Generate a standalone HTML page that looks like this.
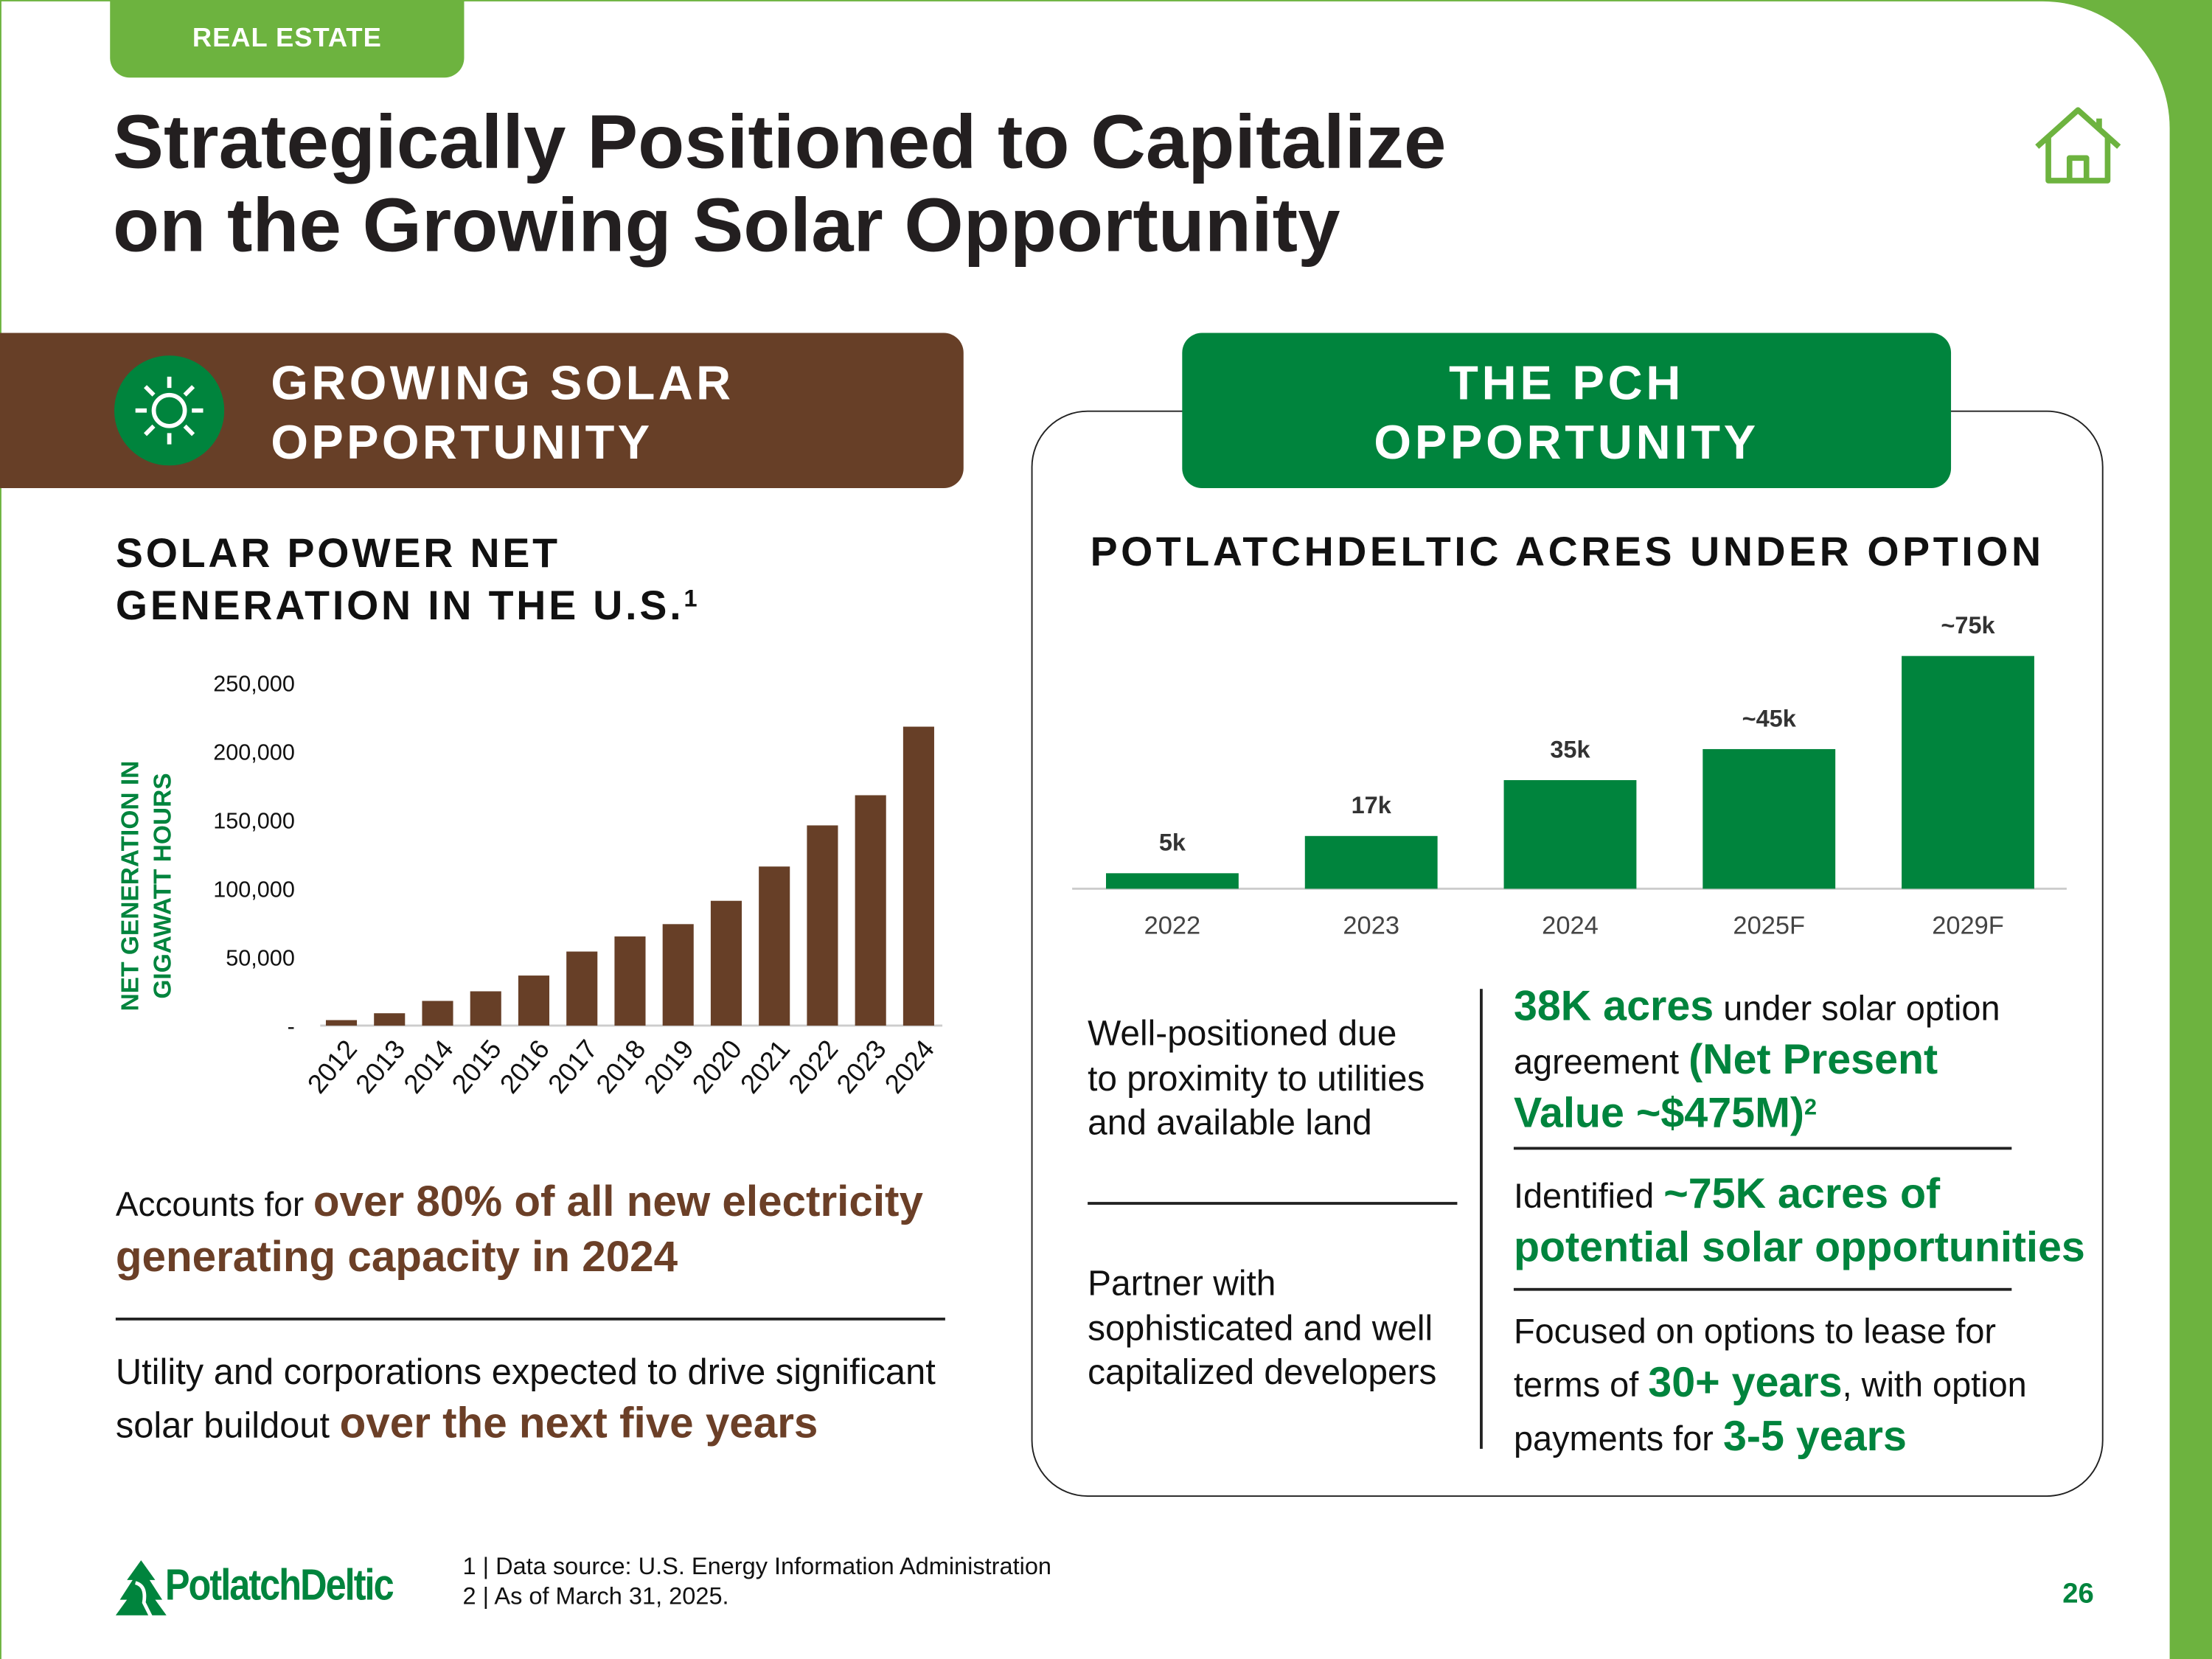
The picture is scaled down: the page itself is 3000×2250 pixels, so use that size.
<!DOCTYPE html>
<html><head><meta charset="utf-8"><style>
html,body{margin:0;padding:0;}
body{width:3000px;height:2250px;overflow:hidden;background:#6db33f;font-family:"Liberation Sans",sans-serif;}
#stage{position:absolute;left:0;top:0;width:1568px;height:1176px;transform:scale(1.91327);transform-origin:0 0;}
#page{position:absolute;left:1px;top:1px;width:1537px;height:1175px;background:#fff;border-top-right-radius:90px;}
.a{position:absolute;white-space:nowrap;}
.g{color:#00843d;font-weight:bold;}
.b{color:#6b3f27;font-weight:bold;}
.hr{position:absolute;height:1.5px;background:#222;}
sup{line-height:0;vertical-align:0;position:relative;top:-0.55em;}
</style></head><body>
<div id="stage">
<div id="page"></div>
<div class="a" style="left:78px;top:0;width:251px;height:55px;background:#6db33f;border-radius:0 0 14px 14px;color:#fff;font-weight:bold;font-size:19px;line-height:55px;text-align:center;letter-spacing:.5px">REAL ESTATE</div>
<div class="a" style="left:80px;top:72px;font-size:54px;font-weight:bold;line-height:59px;color:#231f20">Strategically Positioned to Capitalize<br>on the Growing Solar Opportunity</div>
<svg class="a" style="left:1440px;top:74px" width="66" height="58" viewBox="0 0 66 58"><path d="M4 30 L33 4 L62 30 M12 23 V54 H54 V23 M27 54 V38 H39 V54 M48 10 V17" fill="none" stroke="#6db33f" stroke-width="4" stroke-linejoin="round"/></svg>

<div class="a" style="left:0;top:236px;width:683px;height:110px;background:#673f27;border-radius:0 14px 14px 0"></div>
<svg class="a" style="left:81px;top:252px" width="78" height="78" viewBox="0 0 78 78"><circle cx="39" cy="39" r="39" fill="#00843d"/><circle cx="39" cy="39" r="11" fill="none" stroke="#fff" stroke-width="3"/><g stroke="#fff" stroke-width="3"><line x1="39" y1="15" x2="39" y2="23"/><line x1="39" y1="55" x2="39" y2="63"/><line x1="15" y1="39" x2="23" y2="39"/><line x1="55" y1="39" x2="63" y2="39"/><line x1="22" y1="22" x2="28" y2="28"/><line x1="50" y1="50" x2="56" y2="56"/><line x1="56" y1="22" x2="50" y2="28"/><line x1="22" y1="56" x2="28" y2="50"/></g></svg>
<div class="a" style="left:192px;top:251px;color:#fff;font-weight:bold;font-size:34px;line-height:42px;letter-spacing:2.3px">GROWING SOLAR<br>OPPORTUNITY</div>

<div class="a" style="left:731px;top:291px;width:758px;height:768px;border:1.5px solid #222;border-radius:40px"></div>
<div class="a" style="left:838px;top:236px;width:545px;height:110px;background:#00843d;border-radius:14px;color:#fff;font-weight:bold;font-size:34px;line-height:42px;letter-spacing:2.5px;text-align:center;padding-top:15px;box-sizing:border-box">THE PCH<br>OPPORTUNITY</div>

<div class="a" style="left:82px;top:375px;font-weight:bold;font-size:29px;line-height:37px;letter-spacing:2px;color:#111">SOLAR POWER NET<br>GENERATION IN THE U.S.<sup style="font-size:17px">1</sup></div>
<div class="a" style="left:731px;width:760px;top:376px;text-align:center;font-weight:bold;font-size:29px;letter-spacing:2.4px;color:#111">POTLATCHDELTIC ACRES UNDER OPTION</div>

<svg class="a" id="lc" style="left:0;top:0" width="700" height="800"></svg>
<svg class="a" id="rc" style="left:0;top:0" width="1568" height="700"></svg>

<div class="a" style="left:82px;top:834px;font-size:24px;line-height:36px;color:#111">Accounts for <span class="b" style="font-size:30.5px">over 80% of all new electricity</span><br><span class="b" style="font-size:30.5px">generating capacity in 2024</span></div>
<div class="hr" style="left:82px;top:934px;width:588px"></div>
<div class="a" style="left:82px;top:955px;font-size:25.5px;line-height:36px;color:#111">Utility and corporations expected to drive significant<br>solar buildout <span class="b" style="font-size:30.5px">over the next five years</span></div>

<div class="a" style="left:771px;top:718px;font-size:25px;line-height:31.5px;color:#111">Well-positioned due<br>to proximity to utilities<br>and available land</div>
<div class="hr" style="left:771px;top:852px;width:262px"></div>
<div class="a" style="left:771px;top:895px;font-size:25px;line-height:31.5px;color:#111">Partner with<br>sophisticated and well<br>capitalized developers</div>
<div class="a" style="left:1049px;top:701px;width:1.5px;height:326px;background:#222"></div>
<div class="a" style="left:1073px;top:696px;font-size:24.5px;line-height:36px;color:#111"><span class="g" style="font-size:30px">38K acres</span> under solar option<br>agreement <span class="g" style="font-size:30px">(Net Present</span><br><span class="g" style="font-size:30px">Value ~$475M)<sup style="font-size:16px">2</sup></span></div>
<div class="hr" style="left:1073px;top:813px;width:353px"></div>
<div class="a" style="left:1073px;top:829px;font-size:24.5px;line-height:36px;color:#111">Identified <span class="g" style="font-size:30px">~75K acres of</span><br><span class="g" style="font-size:30px">potential solar opportunities</span></div>
<div class="hr" style="left:1073px;top:913px;width:353px"></div>
<div class="a" style="left:1073px;top:927px;font-size:24.5px;line-height:36px;color:#111">Focused on options to lease for<br>terms of <span class="g" style="font-size:30px">30+ years</span>, with option<br>payments for <span class="g" style="font-size:30px">3-5 years</span></div>

<svg class="a" style="left:82px;top:1104px" width="36" height="46" viewBox="0 0 36 46"><path d="M18 2 L8 16 H12 L3 30 H8 L0 41 H36 L28 30 H33 L24 16 H28 Z" fill="#00843d"/><path d="M14 18 Q22 20 20 32 L26 44" fill="none" stroke="#fff" stroke-width="2.5"/></svg>
<div class="a" style="left:117px;top:1106px;font-weight:bold;font-size:31px;color:#00843d;letter-spacing:-1.2px;transform:scaleX(.85);transform-origin:0 0">PotlatchDeltic</div>
<div class="a" style="left:328px;top:1100px;font-size:17px;line-height:21px;color:#111">1 | Data source: U.S. Energy Information Administration<br>2 | As of March 31, 2025.</div>
<div class="a" style="left:1462px;top:1119px;font-weight:bold;font-size:20px;color:#00843d">26</div>
</div>
<script>
const years=["2012","2013","2014","2015","2016","2017","2018","2019","2020","2021","2022","2023","2024"];
const gen=[4000,9000,18000,25000,36500,54000,65000,74000,91000,116000,146000,168000,218000];
const yTicks=[0,50000,100000,150000,200000,250000];
const yTickLabels=["-","50,000","100,000","150,000","200,000","250,000"];
const acreCats=["2022","2023","2024","2025F","2029F"];
const acres=[5,17,35,45,75];
const acreLabels=["5k","17k","35k","~45k","~75k"];
const NS="http://www.w3.org/2000/svg";
function mk(svg,tag,attrs,txt){const e=document.createElementNS(NS,tag);for(const k in attrs)e.setAttribute(k,attrs[k]);if(txt!==undefined)e.textContent=txt;svg.appendChild(e);return e;}
const lc=document.getElementById('lc');
const ly=v=>727-v*(243/250000);
const lx=i=>242+i*34.1;
const ax=mk(lc,'line',{x1:227,x2:668,y1:727,y2:727,stroke:'#ccc','stroke-width':1.5});

yTicks.forEach((t,i)=>{const e=mk(lc,'text',{x:209,y:ly(t)+6,'text-anchor':'end','font-size':16,fill:'#111','font-family':'Liberation Sans'},yTickLabels[i]);
});
gen.forEach((v,i)=>{const r=mk(lc,'rect',{x:lx(i)-11,y:ly(v),width:22,height:727-ly(v),fill:'#673f27'});

const t=mk(lc,'text',{x:lx(i)+12,y:744,'text-anchor':'end','font-size':19,fill:'#111','font-family':'Liberation Sans',transform:`rotate(-50 ${lx(i)+12} 744)`},years[i]);
});
const yt=mk(lc,'text',{x:0,y:0,'text-anchor':'middle','font-size':17.5,'font-weight':'bold',fill:'#00843d','font-family':'Liberation Sans',transform:'translate(98 628) rotate(-90)'});

mk(yt,'tspan',{x:0,dy:0},'NET GENERATION IN');mk(yt,'tspan',{x:0,dy:23},'GIGAWATT HOURS');
const rc=document.getElementById('rc');
const ry=v=>630-v*2.2;
const rx=i=>831+i*141;
const rax=mk(rc,'line',{x1:760,x2:1465,y1:630,y2:630,stroke:'#ccc','stroke-width':1.5});

acres.forEach((v,i)=>{const r=mk(rc,'rect',{x:rx(i)-47,y:ry(v),width:94,height:630-ry(v),fill:'#00843d'});

const l=mk(rc,'text',{x:rx(i),y:ry(v)-16,'text-anchor':'middle','font-size':17,'font-weight':'bold',fill:'#333','font-family':'Liberation Sans'},acreLabels[i]);

const c=mk(rc,'text',{x:rx(i),y:662,'text-anchor':'middle','font-size':18,fill:'#444','font-family':'Liberation Sans'},acreCats[i]);
});
</script>
</body></html>
